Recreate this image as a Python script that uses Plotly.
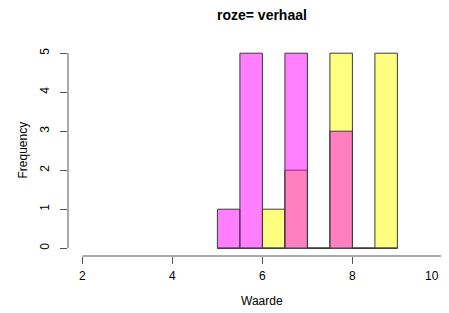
import plotly.graph_objects as go

# Data
bin_starts = [5.0, 5.5, 6.0, 6.5, 7.0, 7.5, 8.0, 8.5]
bin_width = 0.5
yellow_counts = [0, 0, 1, 2, 0, 5, 0, 5]
pink_counts = [1, 5, 0, 5, 0, 3, 0, 0]
x_ticks = [2, 4, 6, 8, 10]
x_tick_labels = ["2", "4", "6", "8", "10"]
y_ticks = [0, 1, 2, 3, 4, 5]
title_text = "roze= verhaal"
x_label = "Waarde"
y_label = "Frequency"

# page body has an 8px margin; positions are shifted to compensate
OFF = 8
W, H = 449, 313
L, T = 68 - OFF, 45 - OFF
R = 0
B = H - (256 - OFF)
px_per_x = 45.0
px_per_y = 39.0
x0 = 1.68
x1 = x0 + (W - L - R) / px_per_x
y0 = -0.2
y1 = y0 + (H - T - B) / px_per_y

font = "Liberation Sans, Arial, sans-serif"
axis_col = "#555555"

fig = go.Figure()
fig.add_trace(go.Bar(
    x=bin_starts, y=yellow_counts, width=bin_width, offset=0,
    marker=dict(color="rgba(255,255,0,0.5)", line=dict(color="#3a3a3a", width=1)),
    hoverinfo="skip"))
fig.add_trace(go.Bar(
    x=bin_starts, y=pink_counts, width=bin_width, offset=0,
    marker=dict(color="rgba(255,0,255,0.5)", line=dict(color="#3a3a3a", width=1)),
    hoverinfo="skip"))

# R-style axis lines spanning only tick range
fig.add_shape(type="line", xref="x", yref="paper", x0=x_ticks[0], x1=x_ticks[-1], y0=0, y1=0,
              line=dict(color=axis_col, width=1))
fig.add_shape(type="line", xref="paper", yref="y", x0=0, x1=0, y0=y_ticks[0], y1=y_ticks[-1],
              line=dict(color=axis_col, width=1))

# last tick label is right-aligned so it stays inside the visible page
shown_text = x_tick_labels[:-1] + [""]

fig.update_layout(
    width=W, height=H,
    margin=dict(l=L, r=R, t=T, b=B, pad=0, autoexpand=False),
    paper_bgcolor="white", plot_bgcolor="white",
    barmode="overlay", showlegend=False,
    font=dict(family=font, size=12, color="black"),
    xaxis=dict(range=[x0, x1], tickvals=x_ticks, ticktext=shown_text,
               ticks="outside", ticklen=7,
               tickcolor=axis_col, showgrid=False, zeroline=False, showline=False,
               tickfont=dict(size=12), ticklabelstandoff=2, automargin=False,
               ticklabeloverflow="allow"),
    yaxis=dict(range=[y0, y1], tickvals=y_ticks, ticks="outside", ticklen=7,
               tickcolor=axis_col, showgrid=False, zeroline=False, showline=False,
               tickangle=-90, tickfont=dict(size=12), ticklabelstandoff=6,
               automargin=False, ticklabeloverflow="allow"),
)

fig.add_annotation(text=x_tick_labels[-1], xref="x", yref="paper", x=x_ticks[-1], y=0,
                   yshift=-20, xanchor="right", yanchor="middle", xshift=-1,
                   showarrow=False, font=dict(size=12, family=font))

cx = ((x0 + (x0 + 8.64)) / 2 - x0) / (x1 - x0)
fig.add_annotation(text="<b>" + title_text + "</b>", xref="paper", yref="paper",
                   x=cx, y=1, yshift=30, xanchor="center", yanchor="middle", showarrow=False,
                   font=dict(size=14, family=font, color="black"))
fig.add_annotation(text=x_label, xref="paper", yref="paper", x=cx, y=0, yshift=-45,
                   xanchor="center", yanchor="middle",
                   showarrow=False, font=dict(size=12, family=font))
fig.add_annotation(text=y_label, xref="paper", yref="paper", x=0, xshift=-46,
                   y=0.5, xanchor="center", yanchor="middle", textangle=-90,
                   showarrow=False, font=dict(size=12, family=font))

fig.write_html("out.html")
